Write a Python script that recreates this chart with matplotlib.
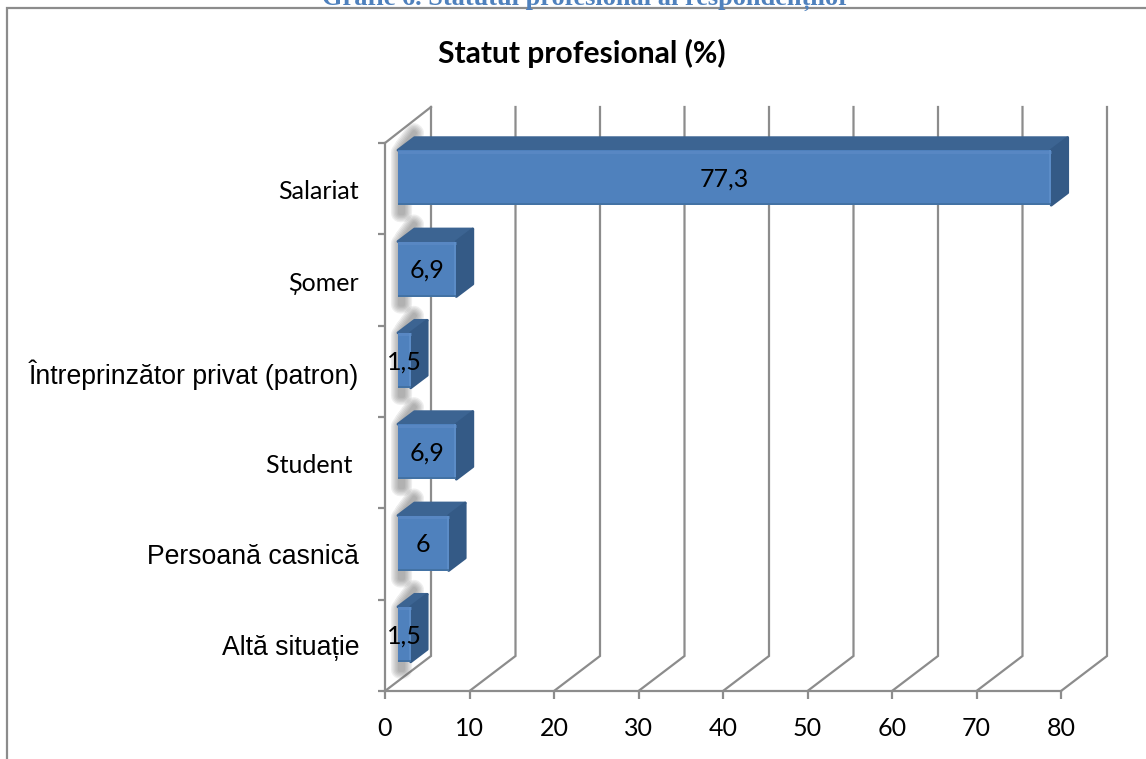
import numpy as np
import matplotlib
matplotlib.use("Agg")
import matplotlib.pyplot as plt
from matplotlib.lines import Line2D
from matplotlib.patches import Polygon

# ---------------------------------------------------------------------------
# Data
# ---------------------------------------------------------------------------
categories = ["Salariat", "Șomer", "Întreprinzător privat (patron)",
              "Student ", "Persoană casnică", "Altă situație"]
values = [77.3, 6.9, 1.5, 6.9, 6, 1.5]
value_labels = ["77,3", "6,9", "1,5", "6,9", "6", "1,5"]
label_fonts = ["Lato", "Lato", "Liberation Sans", "Lato",
               "Liberation Sans", "Liberation Sans"]
x_ticks = [0, 10, 20, 30, 40, 50, 60, 70, 80]

W, H = 1146, 759
AX_L, AX_R, AX_T, AX_B = 385, 1061, 143, 691

GREY = "#8C8C8C"
FACE = "#4F81BD"
TOP = "#3C6492"
SIDE = "#345A86"

fig = plt.figure(figsize=(W / 100, H / 100), dpi=100, facecolor="white")
ax = fig.add_axes([AX_L / W, 1 - AX_B / H, (AX_R - AX_L) / W, (AX_B - AX_T) / H])
ax.set_xlim(0, 80)
ax.set_ylim(5.5, -0.5)
ax.patch.set_visible(False)

# data units per pixel, used for the fake 3D depth
XPX = 80 / (AX_R - AX_L)
YPX = 6 / (AX_B - AX_T)


def pt(x, y, dx=0, dy=0):
    """Data point shifted by pixels (dx right, dy up)."""
    return (x + dx * XPX, y - dy * YPX)


# --- back wall and floor lines ---
for t in x_ticks:
    a = pt(t, 5.5)
    b = pt(t, 5.5, 46, 35)
    c = pt(t, -0.5, 46, 36)
    ax.plot([a[0], b[0], c[0]], [a[1], b[1], c[1]], color=GREY, lw=1.6,
            clip_on=False, zorder=1, solid_joinstyle="miter")
a = pt(0, -0.5)
b = pt(0, -0.5, 46, 36)
ax.plot([a[0], b[0]], [a[1], b[1]], color=GREY, lw=1.6, clip_on=False, zorder=1)


# --- bars ---
def poly(points, **kw):
    p = Polygon(points, closed=True, clip_on=False, **kw)
    ax.add_patch(p)
    return p


FX, FY, HH = 13, 11, 27.5   # face offset and half height, px
DX, DY = 16.5, 12.5         # bar depth, px

for i, (cat, val, lab) in enumerate(zip(categories, values, value_labels)):
    yc = i - FY * YPX
    top = yc - HH * YPX
    bot = yc + HH * YPX
    x0 = FX * XPX
    x1 = x0 + val

    # soft shadow to the left of the bar
    shadow = [pt(x0, top, 2, -2), pt(x0, top, 16, 18), pt(x0, top, 17, 17),
              pt(x0, top, 6, 4), pt(x0, bot, 5, -8), pt(x0, bot, 2, -8)]
    for lw in [13, 11, 9, 7, 5, 3]:
        poly(shadow, facecolor="none", edgecolor="#606060", lw=lw,
             alpha=0.1, zorder=2, joinstyle="round")

    # top and side faces
    poly([(x0, top), pt(x0, top, DX, DY), pt(x1, top, DX, DY), (x1, top)],
         facecolor=TOP, edgecolor=TOP, lw=2, zorder=3, joinstyle="round")
    poly([(x1, top), pt(x1, top, DX, DY), pt(x1, bot, DX, DY), (x1, bot)],
         facecolor=SIDE, edgecolor=SIDE, lw=2, zorder=3, joinstyle="round")

    # front face and bevel
    ax.barh(yc, val, left=x0, height=2 * HH * YPX, color=FACE, zorder=4,
            clip_on=False)
    ax.plot([x0, x1], [top + 1.5 * YPX] * 2, color="#5887C3", lw=2.2, zorder=5,
            clip_on=False, solid_capstyle="butt")
    ax.plot([x1 - 1 * XPX] * 2, [top, bot], color="#5E8FCA", lw=1.2, zorder=5,
            clip_on=False, solid_capstyle="butt")
    ax.plot([x0, x1], [bot - 0.7 * YPX] * 2, color="#41709F", lw=1.2, zorder=5,
            clip_on=False, solid_capstyle="butt")

    ax.text((x0 + x1) / 2, yc + 1.5 * YPX, lab, ha="center", va="center",
            family="Lato", fontsize=18, color="black", zorder=6, clip_on=False)

# --- axes ---
for s in ["top", "right"]:
    ax.spines[s].set_visible(False)
for s in ["left", "bottom"]:
    ax.spines[s].set_color(GREY)
    ax.spines[s].set_linewidth(1.6)
    ax.spines[s].set_zorder(1.5)

ax.set_xticks(x_ticks)
ax.set_xticklabels([str(t) for t in x_ticks], family="Lato", fontsize=18)
ax.tick_params(axis="x", length=5.5, width=1.6, color=GREY, pad=13)

ax.set_yticks(np.arange(-0.5, 6, 1))
ax.set_yticklabels([])
ax.tick_params(axis="y", which="major", length=5, width=1.6, color=GREY)

# category labels, the mixed fonts come from the original chart
for i, (cat, fam) in enumerate(zip(categories, label_fonts)):
    size = 18 if fam == "Lato" else 19.2
    xl, yl = pt(0, i, -26, -3)
    ax.text(xl, yl, cat, ha="right", va="center", family=fam, fontsize=size,
            color="black", clip_on=False)

# --- chart frame and titles ---
fig.add_artist(Line2D([7 / W, 7 / W, 1], [0, 1 - 7.5 / H, 1 - 7.5 / H],
                      color=GREY, lw=1.6, solid_joinstyle="miter"))
fig.text(582 / W, 1 - 53 / H, "Statut profesional (%)", ha="center", va="center",
         family="Lato", fontweight="bold", fontsize=21.6, color="black")
fig.text(586 / W, 1 - 5 / H, "Grafic 6. Statutul profesional al respondenților",
         ha="center", va="baseline", family="Liberation Serif", fontweight="bold",
         fontsize=19, color="#4F81BD")

fig.savefig("out.png", dpi=100)
